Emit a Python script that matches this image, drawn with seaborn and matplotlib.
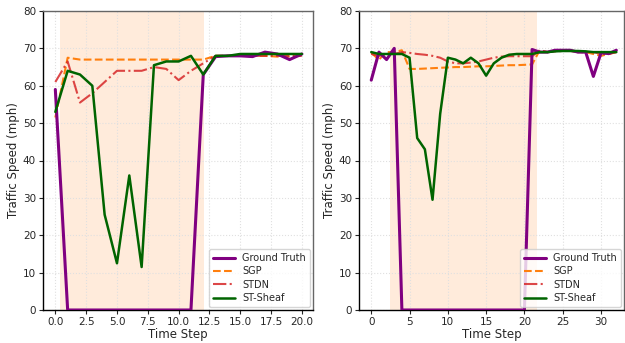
import numpy as np
import pandas as pd
import matplotlib
matplotlib.use("Agg")
import matplotlib.pyplot as plt
import seaborn as sns

# left panel: 21 time steps
t_left = list(range(21))
gt_left = [59, 0, 0, 0, 0, 0, 0, 0, 0, 0, 0, 0, 63, 67.8, 68, 68, 67.8, 69, 68.5, 67, 68.5]
sgp_left = [51.5, 67.5, 67, 67, 67, 67, 67, 67, 67, 67, 67, 67, 67, 68, 68, 68, 68, 68, 67.8, 67.8, 68]
stdn_left = [61, 66.5, 55.5, 58, 61, 64, 64, 64, 65, 64.5, 61.5, 64, 66, 68, 68, 68, 68, 68, 68, 68, 68]
sheaf_left = [53, 64, 63, 60, 25.5, 12.5, 36, 11.5, 65.5, 66.5, 66.5, 68, 63, 68, 68, 68.5, 68.5, 68.5, 68.5, 68.5, 68.5]
xticks_left = [0, 2.5, 5, 7.5, 10, 12.5, 15, 17.5, 20]

# right panel: 33 time steps
t_right = list(range(33))
gt_right = [61.5, 69, 67, 70, 0, 0, 0, 0, 0, 0, 0, 0, 0, 0, 0, 0, 0, 0, 0, 0, 0,
            69.7, 69, 69, 69.5, 69.5, 69.5, 69, 69, 62.5, 68.8, 68.6, 69.5]
sgp_right = [68.8, 67, 69, 69, 69.5, 64.5, 64.5, 64.6, 64.7, 64.8, 64.9, 65, 65, 65.1, 65.2, 65.2, 65.3,
             65.4, 65.5, 65.5, 65.6, 65.7, 69.5, 69, 69.5, 69.5, 69.5, 69, 69, 68.5, 68, 68.5, 69]
stdn_right = [68.5, 68, 68.5, 68.5, 69, 68.8, 68.5, 68.3, 68, 67.5, 66.5, 66, 66, 66.2, 66.5, 67, 67.5,
              67.8, 67.9, 67.9, 67.9, 67.9, 69.5, 69, 69.2, 69.3, 69.3, 69, 69, 69, 68.5, 68.5, 69]
sheaf_right = [69, 68.5, 68.5, 68.5, 68.5, 67.5, 46, 43, 29.5, 52.5, 67.5, 67, 66, 67.5, 66, 62.7, 66,
               67.5, 68.3, 68.5, 68.5, 68.5, 69, 69, 69.2, 69.3, 69.3, 69.3, 69.2, 69, 69, 69, 69]
xticks_right = [0, 5, 10, 15, 20, 25, 30]

shade_left = (0.4, 12.05)
shade_right = (2.5, 21.6)

sns.set_style("whitegrid", {"grid.linestyle": ":", "grid.color": "#e0e0e0"})
plt.rcParams['font.family'] = ['DejaVu Sans']

fig = plt.figure(figsize=(6.25, 3.43), dpi=100)
ax1 = fig.add_axes([43/625, 33/343, 270/625, 299/343])
ax2 = fig.add_axes([359/625, 33/343, 265/625, 299/343])

panels = [
    (ax1, t_left, gt_left, sgp_left, stdn_left, sheaf_left, shade_left, (-1, 20.9), xticks_left),
    (ax2, t_right, gt_right, sgp_right, stdn_right, sheaf_right, shade_right, (-1.6, 33.0), xticks_right),
]

for ax, t, gt, sgp, stdn, sheaf, shade, xlim, xticks in panels:
    ax.axvspan(shade[0], shade[1], color="#ff7f0e", alpha=0.15, lw=0, zorder=0)
    sns.lineplot(x=t, y=gt, ax=ax, color="purple", lw=2.2, label="Ground Truth", zorder=3)
    sns.lineplot(x=t, y=sgp, ax=ax, color="#ff7f0e", lw=1.5, linestyle="--", label="SGP", zorder=2)
    sns.lineplot(x=t, y=stdn, ax=ax, color="#d62728", lw=1.5, linestyle="-.", alpha=0.85, label="STDN", zorder=2)
    sns.lineplot(x=t, y=sheaf, ax=ax, color="darkgreen", lw=1.8, label="ST-Sheaf", zorder=3)
    ax.set_ylim(0, 80)
    ax.set_xlim(*xlim)
    ax.set_xticks(xticks)
    ax.set_xlabel("Time Step", fontsize=8.5, labelpad=1)
    ax.set_ylabel("Traffic Speed (mph)", fontsize=8.5, labelpad=2)
    ax.tick_params(axis="both", labelsize=7.5, length=3, width=0.8, pad=2, left=True, bottom=True)
    for side in ["left", "bottom"]:
        ax.spines[side].set_color("black")
        ax.spines[side].set_linewidth(1.0)
    for side in ["top", "right"]:
        ax.spines[side].set_color("#666666")
        ax.spines[side].set_linewidth(1.0)
    ax.legend(loc="lower right", fontsize=7, frameon=True, borderaxespad=0.3, handlelength=2.2,
              labelspacing=0.35)

fig.savefig("out.png", dpi=100)
